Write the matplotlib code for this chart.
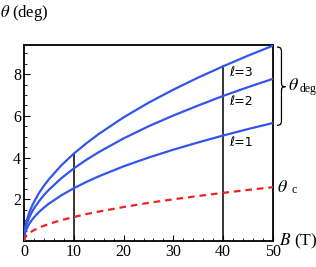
import numpy as np
import matplotlib
matplotlib.use("Agg")
import matplotlib.pyplot as plt
from matplotlib.ticker import MultipleLocator
from matplotlib.path import Path
from matplotlib.patches import PathPatch

plt.rcParams['font.family'] = ['Liberation Serif', 'DejaVu Serif']
plt.rcParams['mathtext.fontset'] = 'stix'

# values
B = [0, 0.1, 0.25, 0.5, 1, 1.5, 2, 3, 4, 5, 7.5, 10, 12.5, 15, 20, 25, 30, 35, 40, 45, 50]
theta_l3 = [0, 0.42, 0.66, 0.94, 1.33, 1.62, 1.87, 2.30, 2.65, 2.96, 3.63, 4.19, 4.68, 5.13, 5.93, 6.63, 7.26, 7.84, 8.38, 8.89, 9.37]
theta_l2 = [0, 0.35, 0.55, 0.78, 1.10, 1.35, 1.56, 1.90, 2.20, 2.46, 3.01, 3.48, 3.89, 4.26, 4.92, 5.50, 6.02, 6.50, 6.96, 7.38, 7.78]
theta_l1 = [0, 0.25, 0.40, 0.57, 0.80, 0.98, 1.13, 1.39, 1.60, 1.79, 2.19, 2.53, 2.83, 3.10, 3.58, 4.00, 4.38, 4.73, 5.06, 5.37, 5.66]
theta_c = [0, 0.12, 0.18, 0.26, 0.37, 0.45, 0.52, 0.63, 0.73, 0.82, 1.00, 1.15, 1.29, 1.41, 1.63, 1.83, 2.00, 2.16, 2.31, 2.45, 2.58]
curve_labels = ["\u2113=3", "\u2113=2", "\u2113=1"]
label_y = [8.1, 6.7, 4.7]
marks_B = [10, 40]

fig = plt.figure(figsize=(3.16, 2.67), dpi=100)
ax = fig.add_axes([24/316, 26/267, 249/316, 196/267])

blue = "#3355ee"
for th in [theta_l3, theta_l2, theta_l1]:
    ax.plot(B, th, color=blue, lw=1.6, zorder=3)
ax.plot(B, theta_c, color="#ee2222", lw=1.6, ls=(0, (3, 2.2)), zorder=3)

for b in marks_B:
    ax.plot([b, b], [0, np.interp(b, B, theta_l3)], color="black", lw=1.1, zorder=2)

for lab, y in zip(curve_labels, label_y):
    ax.text(41.2, y, lab, fontsize=9, family=['DejaVu Sans'], va="center", ha="left")

ax.set_xlim(0, 50)
ax.set_ylim(0, 9.4)
ax.xaxis.set_major_locator(MultipleLocator(10))
ax.xaxis.set_minor_locator(MultipleLocator(2))
ax.yaxis.set_major_locator(MultipleLocator(2))
ax.yaxis.set_minor_locator(MultipleLocator(0.5))
ax.set_yticks([2, 4, 6, 8])
ax.set_xticks([0, 10, 20, 30, 40, 50])
ax.tick_params(which="both", direction="in", top=False, right=False)
ax.tick_params(which="major", length=4, width=0.8, labelsize=11.5, pad=2)
ax.tick_params(which="minor", length=2, width=0.6)
for s in ax.spines.values():
    s.set_linewidth(1.3)

# axis titles
fig.text(0.0, 0.952, r"$\theta$ (deg)", fontsize=12, ha="left", va="center")
fig.text(279/316, 26/267, r"$B$ (T)", fontsize=12.5, ha="left", va="center")
fig.text(277/316, 80/267, r"$\theta$", fontsize=13, ha="left", va="center")
fig.text(291/316, 77/267, "c", fontsize=8.5, ha="left", va="center")

# brace for theta_deg
x0, x1, x2 = 50.8, 51.7, 52.5
yt, ym, yb = 9.3, 7.4, 5.55
verts = [(x0, yt), (x1, yt), (x1, yt - 0.1), (x1, yt - 0.3),
         (x1, ym + 0.3),
         (x1, ym + 0.05), (x1, ym), (x2, ym),
         (x1, ym), (x1, ym - 0.05), (x1, ym - 0.3),
         (x1, yb + 0.3),
         (x1, yb + 0.1), (x1, yb), (x0, yb)]
codes = [Path.MOVETO, Path.CURVE4, Path.CURVE4, Path.CURVE4,
         Path.LINETO,
         Path.CURVE4, Path.CURVE4, Path.CURVE4,
         Path.CURVE4, Path.CURVE4, Path.CURVE4,
         Path.LINETO,
         Path.CURVE4, Path.CURVE4, Path.CURVE4]
ax.add_patch(PathPatch(Path(verts, codes), fill=False, lw=0.9, clip_on=False))
fig.text(288/316, 182/267, r"$\theta$", fontsize=13, ha="left", va="center")
fig.text(300/316, 178/267, "deg", fontsize=8.5, ha="left", va="center")

fig.savefig("out.png", dpi=100)
